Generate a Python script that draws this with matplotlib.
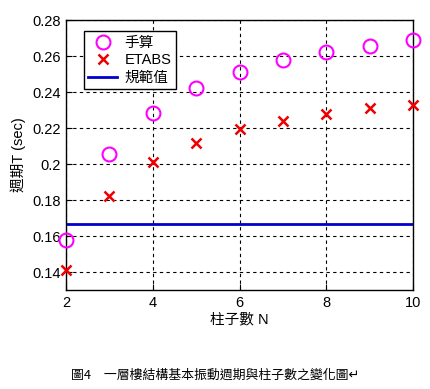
import matplotlib
matplotlib.use('Agg')
import matplotlib.pyplot as plt

plt.rcParams['font.family'] = ['Liberation Sans', 'Noto Sans CJK TC', 'DejaVu Sans']

# column count N
n_cols = [2, 3, 4, 5, 6, 7, 8, 9, 10]
# hand calculation
t_hand = [0.158, 0.2055, 0.2285, 0.2425, 0.251, 0.2576, 0.2622, 0.2658, 0.2688]
# ETABS results
t_etabs = [0.141, 0.1823, 0.201, 0.2118, 0.2193, 0.224, 0.2277, 0.2311, 0.2329]
# code value
t_code = 0.1665

x_ticks = [2, 4, 6, 8, 10]
y_ticks = [0.14, 0.16, 0.18, 0.2, 0.22, 0.24, 0.26, 0.28]
y_labels = ['0.14', '0.16', '0.18', '0.2', '0.22', '0.24', '0.26', '0.28']

fig = plt.figure(figsize=(4.3, 3.89), dpi=100)
ax = fig.add_axes([66 / 430, 1 - 290 / 389, 347 / 430, 270 / 389])

ax.plot(n_cols, t_hand, 'o', color='#ff00ff', mfc='none', mew=1.5, ms=10, label='手算', clip_on=False, zorder=3)
ax.plot(n_cols, t_etabs, 'x', color='#ee0000', mew=1.8, ms=7, label='ETABS', clip_on=False, zorder=3)
ax.plot([n_cols[0], n_cols[-1]], [t_code, t_code], '-', color='#0000cc', lw=2, label='規範值')

ax.set_xlim(2, 10)
ax.set_ylim(0.13, 0.28)
ax.set_xticks(x_ticks)
ax.set_yticks(y_ticks)
ax.set_yticklabels(y_labels)
ax.tick_params(direction='in', labelsize=10.5, length=4, pad=4)
ax.grid(True, color='black', linestyle=(0, (3, 3)), linewidth=0.8)
for s in ax.spines.values():
	s.set_linewidth(1)

ax.set_xlabel('柱子數 N', fontsize=10.5, labelpad=2)
ax.set_ylabel('週期T (sec)', fontsize=10.5, labelpad=4)

leg = ax.legend(loc='upper left', bbox_to_anchor=(0.03, 0.985), fontsize=10.5, fancybox=False,
	edgecolor='black', framealpha=1, borderpad=0.3, labelspacing=0.25, handlelength=2.0, handletextpad=0.5)
leg.get_frame().set_linewidth(1)

fig.text(0.5, 1 - 375 / 389, '圖4　一層樓結構基本振動週期與柱子數之變化圖↵', ha='center', va='center',
	fontsize=9.3, family=['Noto Sans CJK TC', 'DejaVu Sans'])

fig.savefig('out.png', dpi=100)
